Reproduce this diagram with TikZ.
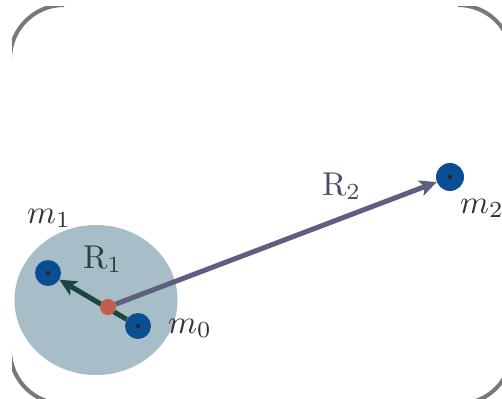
\documentclass[tikz,border=0pt]{standalone}
\usepackage{graphicx}
\usetikzlibrary{shapes.geometric,arrows.meta}
\definecolor{borderc}{RGB}{120,120,120}
\definecolor{cloudc}{RGB}{167,189,199}
\definecolor{dotc}{RGB}{12,78,148}
\definecolor{comc}{RGB}{192,96,76}
\definecolor{ronec}{RGB}{30,70,65}
\definecolor{rtwoc}{RGB}{94,95,126}
\definecolor{rtwotxt}{RGB}{74,76,104}
\definecolor{mtxt}{RGB}{51,51,51}
\newcommand{\biglab}[1]{\scalebox{3.3}{$#1$}}
\tikzset{
  body/.style={circle, fill=dotc, inner sep=0pt, minimum size=26pt,
    path picture={\fill[black!85] (path picture bounding box.center) circle (2.2pt);}},
  comdot/.style={circle, fill=comc, inner sep=0pt, minimum size=16pt},
  vec/.style={line width=5pt, -{Stealth[length=17pt,width=16pt,inset=4pt]}},
  lab/.style={anchor=base west, inner sep=0pt},
  frame/.style={borderc, line width=4pt}
}
\begin{document}
\begin{tikzpicture}[x=1pt,y=-1pt]
\useasboundingbox (0,0) rectangle (502,398);
\clip (0,0) rectangle (502,398);
\begin{scope}
  \clip (12,7) rectangle (502,398);
  \draw[frame] (10,59) arc[start angle=180, end angle=270, radius=54];
  \draw[frame] (458,5) arc[start angle=270, end angle=360, radius=54];
  \draw[frame] (10,350) arc[start angle=180, end angle=90, radius=54];
  \draw[frame] (512,350) arc[start angle=0, end angle=90, radius=54];
\end{scope}
\node[ellipse, fill=cloudc, inner sep=0pt, minimum width=163pt, minimum height=150pt] (cloud) at (96,300) {};
\node[body] (m1) at (48,273) {};
\node[body] (m0) at (138,326) {};
\node[body, minimum size=28pt] (m2) at (450,177) {};
\draw[vec, ronec] (m0) -- (m1);
\node[comdot] (com) at (108,307) {};
\draw[vec, rtwoc] (com) -- (m2);
\node[lab, mtxt] (lm1) at (27,223) {\biglab{m_1}};
\node[lab, ronec] (lr1) at (83,268) {\biglab{\mathrm{R}_1}};
\node[lab, mtxt] (lm0) at (168,333) {\biglab{m_0}};
\node[lab, rtwotxt] (lr2) at (322,195) {\biglab{\mathrm{R}_2}};
\node[lab, mtxt] (lm2) at (460,213) {\biglab{m_2}};
\end{tikzpicture}
\end{document}
